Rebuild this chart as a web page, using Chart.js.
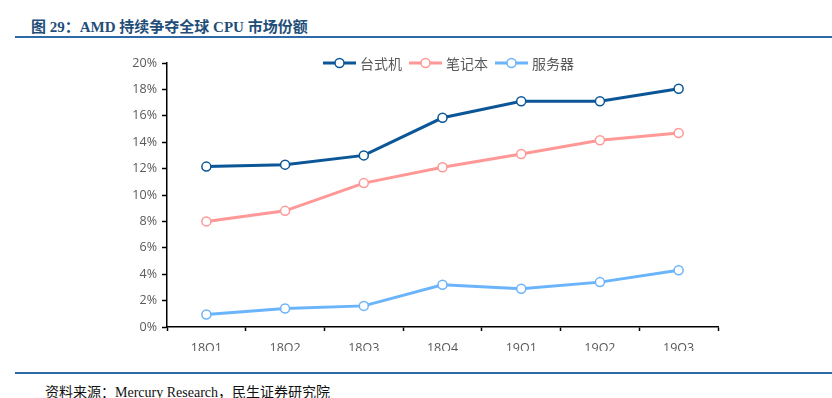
<!DOCTYPE html>
<html>
<head>
<meta charset="utf-8">
<script src="https://cdn.jsdelivr.net/npm/chart.js@4.4.1/dist/chart.umd.min.js"></script>
<style>
  html, body { margin: 0; padding: 0; background: #fff; width: 832px; height: 398px; overflow: hidden; position: relative; }
  #title { position: absolute; left: 31px; top: 15px; font-family: "Liberation Serif", "Noto Sans CJK SC", serif; font-weight: bold; font-size: 15px; color: #1f4e79; white-space: nowrap; }
  #topline { position: absolute; left: 15px; right: 0; top: 36px; height: 2px; background: #2e6aa8; }
  #botline { position: absolute; left: 15px; right: 0; top: 372px; height: 2px; background: #2e6aa8; }
  #footer { position: absolute; left: 45px; top: 381px; font-family: "Liberation Serif", "Noto Sans CJK SC", serif; font-size: 14px; color: #111; white-space: nowrap; }
  #wrap { position: absolute; left: 0; top: 41px; width: 832px; height: 310px; overflow: hidden; }
  #wrap canvas { display: block; }
</style>
</head>
<body>
<div id="title">图 29：AMD 持续争夺全球 CPU 市场份额</div>
<div id="topline"></div>
<div id="wrap"><div style="width:832px;height:317px;position:relative;"><canvas id="c"></canvas></div></div>
<div id="botline"></div>
<div id="footer">资料来源：Mercury Research，民生证券研究院</div>
<script>
const categories = ["18Q1", "18Q2", "18Q3", "18Q4", "19Q1", "19Q2", "19Q3"];
const desktop = [12.15, 12.3, 13.0, 15.85, 17.1, 17.1, 18.05];
const notebook = [8.0, 8.8, 10.9, 12.1, 13.1, 14.15, 14.7];
const server = [0.95, 1.4, 1.6, 3.2, 2.9, 3.4, 4.3];
const seriesNames = ["台式机", "笔记本", "服务器"];
const seriesColors = ["#0b5697", "#ff9896", "#6ab4fb"];

const legendPlugin = {
  id: 'lineLegend',
  afterDraw(chart) {
    const ctx = chart.ctx;
    const y = chart.chartArea.top;
    let x = 323;
    ctx.save();
    ctx.font = '14px "Noto Sans CJK SC", sans-serif';
    ctx.textBaseline = 'middle';
    chart.data.datasets.forEach((ds) => {
      ctx.strokeStyle = ds.borderColor;
      ctx.lineWidth = 3;
      ctx.beginPath();
      ctx.moveTo(x, y);
      ctx.lineTo(x + 33, y);
      ctx.stroke();
      ctx.beginPath();
      ctx.arc(x + 16.5, y, 4.5, 0, Math.PI * 2);
      ctx.fillStyle = '#fff';
      ctx.fill();
      ctx.lineWidth = 1.5;
      ctx.stroke();
      ctx.fillStyle = '#595959';
      ctx.fillText(ds.label, x + 37, y + 1);
      x += 37 + ctx.measureText(ds.label).width + 7;
    });
    ctx.restore();
  }
};

const mk = (i, data) => ({
  label: seriesNames[i],
  data: data,
  borderColor: seriesColors[i],
  backgroundColor: '#fff',
  borderWidth: 3,
  pointRadius: 4.5,
  pointBorderWidth: 1.5,
  pointBackgroundColor: '#fff',
  pointBorderColor: seriesColors[i],
  tension: 0,
  fill: false
});

new Chart(document.getElementById('c'), {
  type: 'line',
  data: {
    labels: categories,
    datasets: [mk(0, desktop), mk(1, notebook), mk(2, server)]
  },
  plugins: [legendPlugin],
  options: {
    responsive: true,
    maintainAspectRatio: false,
    animation: false,
    layout: { padding: { left: 122, right: 114, top: 22, bottom: 0 } },
    plugins: { legend: { display: false }, tooltip: { enabled: false } },
    scales: {
      x: {
        offset: true,
        grid: { display: true, drawOnChartArea: false, offset: true, color: '#000', tickLength: 4, tickWidth: 1.5 },
        border: { color: '#000', width: 1.5 },
        ticks: { color: '#595959', font: { family: '"Open Sans", sans-serif', size: 12.5 }, padding: 10, maxRotation: 0 },
        afterFit(s) { s.height = 31; }
      },
      y: {
        min: 0, max: 20,
        grid: { display: true, drawOnChartArea: false, color: '#000', tickLength: 5, tickWidth: 1.5 },
        border: { color: '#000', width: 1.5 },
        ticks: { stepSize: 2, color: '#595959', font: { family: '"Open Sans", sans-serif', size: 12.5 }, padding: 5, callback: v => v + '%' },
        afterFit(s) { s.width = 45; }
      }
    }
  }
});
</script>
</body>
</html>
